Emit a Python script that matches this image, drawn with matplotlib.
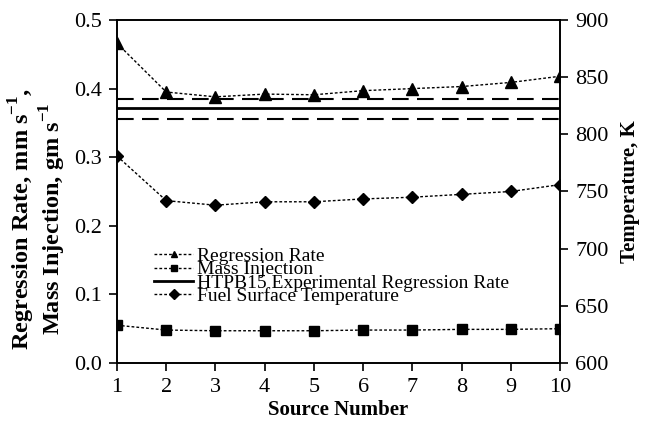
import matplotlib.pyplot as plt

plt.rcParams['font.family'] = ['Liberation Serif', 'DejaVu Serif']
plt.rcParams['mathtext.fontset'] = 'custom'
plt.rcParams['mathtext.rm'] = 'Liberation Serif:bold'

# data
source = [1, 2, 3, 4, 5, 6, 7, 8, 9, 10]
regression_rate = [0.466, 0.395, 0.388, 0.392, 0.391, 0.397, 0.400, 0.403, 0.409, 0.418]
mass_injection = [0.055, 0.048, 0.047, 0.047, 0.047, 0.048, 0.048, 0.049, 0.049, 0.050]
surface_temp = [781, 742, 738, 741, 741, 743.5, 745, 747.5, 750, 756]
exp_rate = 0.371
exp_upper = 0.385
exp_lower = 0.356

fig = plt.figure(figsize=(6.48, 4.33), dpi=100)
ax = fig.add_axes([0.1806, 0.1617, 0.6836, 0.7921])
ax2 = ax.twinx()

dots = (0, (2, 1.5))
l1, = ax.plot(source, regression_rate, color='black', linestyle=dots, linewidth=1,
              marker='^', markersize=8, label='Regression Rate')
l2, = ax.plot(source, mass_injection, color='black', linestyle=dots, linewidth=1,
              marker='s', markersize=7, label='Mass Injection')
l3 = ax.axhline(exp_rate, color='black', linewidth=2,
                label='HTPB15 Experimental Regression Rate')
ax.axhline(exp_upper, color='black', linewidth=1.5, linestyle=(0, (8, 4)))
ax.axhline(exp_lower, color='black', linewidth=1.5, linestyle=(0, (8, 4)))
l4, = ax2.plot(source, surface_temp, color='black', linestyle=dots, linewidth=1,
               marker='D', markersize=6, label='Fuel Surface Temperature')

ax.set_xlim(1, 10)
ax.set_ylim(0, 0.5)
ax2.set_ylim(600, 900)
ax.set_xticks(source)
ax.set_yticks([0, 0.1, 0.2, 0.3, 0.4, 0.5])
ax.set_yticklabels(['0.0', '0.1', '0.2', '0.3', '0.4', '0.5'])
ax2.set_yticks([600, 650, 700, 750, 800, 850, 900])

for a in (ax, ax2):
    a.tick_params(direction='out', length=6, width=1.2, labelsize=16, pad=5)
    for s in a.spines.values():
        s.set_linewidth(1.2)

ax.set_xlabel('Source Number', fontsize=15, fontweight='bold', labelpad=2)
ax.set_ylabel('Regression Rate, mm s$^{-1}$,\nMass Injection, gm s$^{-1}$',
              fontsize=17.5, fontweight='bold', linespacing=1.05)
ax.yaxis.set_label_coords(-0.11, 0.42)
ax2.set_ylabel('Temperature, K', fontsize=15, fontweight='bold', labelpad=8)

leg = ax.legend(handles=[l1, l2, l3, l4], loc='lower left', bbox_to_anchor=(0.062, 0.14),
                frameon=False, fontsize=14, handlelength=2.0, handletextpad=0.2,
                labelspacing=-0.22, borderpad=0)
for h in leg.legend_handles:
    h.set_markersize(5)

fig.savefig('out.png', dpi=100)
